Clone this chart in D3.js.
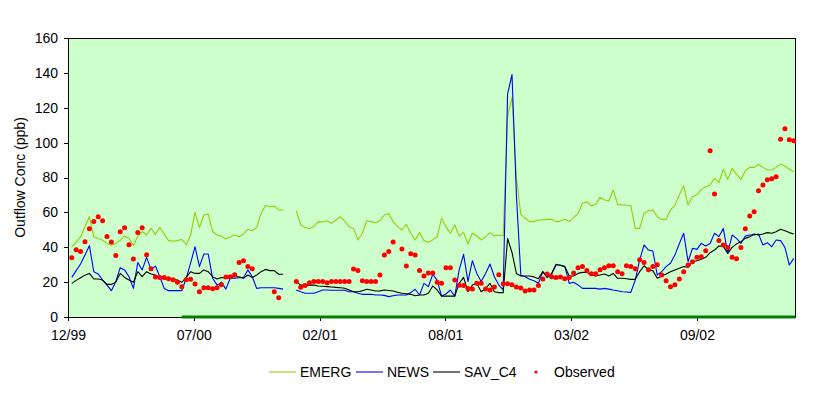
<!DOCTYPE html>
<html>
<head>
<meta charset="utf-8">
<script src="https://cdn.jsdelivr.net/npm/d3@7"></script>
<style>
  html, body { margin: 0; padding: 0; background: #fff; }
  svg { display: block; font-family: "Liberation Sans", Arial, sans-serif; }
</style>
</head>
<body>
<div id="chart"></div>
<script>
// --------------- Data (weekly samples, first week 2000-01-05) ---------------
const tickLabels = ["12/99", "07/00", "02/01", "08/01", "03/02", "09/02"];
const seriesNames = ["EMERG", "NEWS", "SAV_C4", "Observed"];

const emerg = [
  40.3, 42.8, 46.0, 51.8, 57.5, 46.0, 45.0, 44.0, 42.2, 41.1,
  42.2, 44.0, 46.4, 45.0, 41.0, 46.4, 49.0, 47.0, 50.8, 47.4,
  51.4, 47.6, 43.8, 43.4, 43.8, 44.5, 41.3, 47.0, 60.0, 51.4,
  58.5, 59.0, 49.0, 47.0, 46.4, 44.7, 46.0, 47.0, 46.0, 47.6,
  50.3, 49.5, 51.4, 59.4, 64.0, 63.2, 63.6, 61.4, 61.4, null,
  null, 60.8, 52.8, 51.4, 50.8, 51.8, 54.7, 54.5, 55.2, 53.7,
  55.6, 57.5, 55.0, 51.8, 50.8, 44.2, 48.0, 55.2, 54.7, 54.1,
  55.2, 58.5, 59.4, 54.7, 51.8, 49.9, 53.1, 48.0, 44.2, 48.4,
  43.8, 42.8, 44.2, 46.0, 56.6, 51.8, 48.0, 52.8, 46.4, 48.5,
  41.9, 48.0, 46.6, 44.2, 46.0, 48.4, 46.6, 47.0, 46.6, 115.0,
  126.0, 80.0, 59.0, 56.6, 54.7, 54.7, 55.6, 55.6, 56.0, 56.0,
  54.7, 55.0, 56.0, 54.7, 57.0, 59.4, 65.2, 66.1, 63.6, 64.6,
  68.6, 67.1, 66.7, 72.8, 64.6, 64.2, 64.2, 63.8, 50.8, 50.8,
  59.4, 61.0, 61.4, 57.5, 56.0, 56.0, 61.4, 64.0, 70.0, 75.1,
  64.2, 69.0, 70.0, 73.2, 74.7, 75.7, 79.5, 77.2, 84.7, 78.9,
  85.2, 81.8, 78.9, 83.9, 85.8, 85.8, 87.5, 85.8, 84.3, 84.3,
  85.8, 87.7, 86.6, 84.7, 83.3
];

const news = [
  22.7, 26.6, 30.4, 35.6, 40.9, 26.0, 24.7, 21.2, 18.3, 15.1,
  20.3, 28.3, 27.0, 23.1, 16.4, 31.3, 27.0, 34.2, 27.3, 29.2,
  23.1, 16.4, 15.1, 15.1, 15.1, 15.1, 22.2, 31.0, 40.3, 28.9,
  36.1, 36.1, 22.2, 18.3, 20.0, 16.0, 22.2, 22.2, 22.5, 22.5,
  27.0, 23.1, 16.4, 16.8, 16.8, 16.8, 16.8, 16.4, 16.0, null,
  null, 15.5, 14.5, 13.6, 13.6, 13.6, 14.5, 15.5, 15.5, 15.3,
  15.3, 15.3, 15.3, 14.5, 14.5, 13.6, 13.0, 13.0, 13.0, 12.6,
  12.6, 12.4, 11.7, 12.2, 12.6, 12.6, 12.6, 14.0, 15.9, 12.6,
  19.3, 17.4, 24.5, 21.0, 12.0, 13.2, 15.5, 12.0, 27.0, 35.9,
  20.3, 32.3, 25.0, 20.3, 25.0, 30.4, 23.1, 18.3, 15.5, 128.0,
  139.0, 70.0, 24.0, 23.1, 21.6, 20.8, 19.3, 26.0, 22.7, 24.7,
  29.8, 29.8, 28.9, 19.3, 19.9, 18.3, 16.4, 16.4, 16.4, 16.4,
  16.0, 16.4, 16.0, 15.5, 15.1, 14.5, 14.3, 14.1, 21.2, 32.7,
  41.3, 38.4, 37.8, 24.1, 26.0, 28.9, 30.8, 35.5, 42.0, 48.0,
  31.7, 39.4, 38.8, 42.2, 40.7, 42.2, 48.0, 46.1, 50.8, 36.5,
  47.0, 45.1, 42.2, 46.4, 47.0, 47.0, 47.6, 41.3, 42.6, 40.3,
  44.2, 43.8, 39.9, 29.8, 33.6
];

const savC4 = [
  19.3, 21.0, 22.5, 24.0, 25.0, 21.8, 21.8, 21.2, 18.7, 18.7,
  20.0, 25.0, 22.7, 21.2, 19.9, 26.0, 23.1, 26.0, 24.7, 24.0,
  22.7, 21.8, 21.8, 21.5, 21.2, 19.9, 22.7, 26.0, 25.0, 25.0,
  27.0, 26.0, 23.1, 21.8, 22.7, 22.2, 22.7, 23.1, 23.1, 22.2,
  24.1, 22.7, 24.1, 26.0, 27.3, 26.6, 26.6, 24.5, 24.5, null,
  null, 20.3, 18.3, 18.3, 18.3, 18.3, 17.8, 17.6, 17.4, 17.2,
  17.0, 16.8, 16.5, 15.5, 14.5, 14.5, 15.0, 15.9, 15.5, 14.9,
  15.0, 15.5, 15.2, 14.9, 14.2, 13.6, 13.3, 13.0, 12.2, 12.6,
  12.6, 13.6, 17.8, 15.5, 12.0, 12.0, 12.0, 12.0, 19.3, 22.7,
  14.5, 18.3, 19.3, 14.5, 16.4, 19.3, 14.5, 14.0, 14.0, 45.0,
  37.0, 25.0, 23.5, 23.5, 23.5, 23.0, 22.0, 26.0, 22.7, 25.0,
  30.2, 29.5, 28.9, 23.5, 23.5, 25.0, 25.6, 25.6, 24.1, 23.5,
  24.1, 24.7, 23.5, 25.0, 22.2, 22.2, 21.9, 21.6, 21.6, 26.0,
  29.4, 27.0, 26.6, 22.2, 23.5, 24.7, 26.0, 27.0, 27.9, 28.9,
  28.5, 31.7, 32.3, 33.1, 34.2, 36.9, 38.4, 40.7, 40.5, 36.5,
  39.9, 41.9, 43.2, 45.1, 46.0, 47.6, 47.0, 47.6, 48.4, 48.0,
  48.9, 50.3, 49.5, 48.4, 47.6
];

const observed = [
  34.0, 38.6, 37.5, 43.2, 50.6, 54.7, 57.5, 55.2, 46.1, 43.0,
  35.2, 48.9, 51.2, 41.5, 33.3, 48.4, 51.2, 35.7, 27.7, 22.9,
  22.6, 22.6, 22.0, 21.4, 19.9, 17.4, 21.4, 21.6, 18.9, 14.5,
  16.8, 16.8, 16.2, 16.8, 18.5, 22.9, 23.1, 24.3, 31.3, 32.3,
  28.9, 27.7, null, null, null, null, 14.5, 11.1, null, null,
  null, 20.3, 17.0, 18.0, 19.6, 20.3, 20.3, 20.3, 19.7, 20.3,
  20.3, 20.3, 20.3, 20.3, 27.5, 26.6, 20.8, 20.3, 20.3, 20.3,
  24.1, 35.6, 37.5, 43.0, null, 39.0, 29.2, 36.3, 35.6, 26.6,
  23.5, 25.2, 25.2, 19.9, 19.3, 28.3, 28.3, 21.2, 18.2, 18.0,
  16.4, 16.1, 19.3, 19.3, 16.1, 15.5, 17.2, 24.3, 19.1, 19.1,
  18.5, 17.2, 16.6, 14.9, 15.5, 15.5, 18.0, 21.8, 24.7, 23.1,
  22.7, 22.9, 22.0, 22.6, 25.2, 28.3, 28.9, 26.6, 24.8, 24.8,
  27.1, 28.3, 29.4, 29.4, 26.0, 24.8, 29.4, 28.9, 27.7, 32.9,
  31.2, 27.1, 28.9, 30.0, 24.1, 20.8, 17.4, 18.5, 21.8, 26.0,
  29.8, 31.7, 34.2, 34.6, 38.0, 95.4, 70.5, 43.8, 41.3, 39.8,
  34.2, 33.4, 39.8, 50.6, 57.9, 60.4, 72.4, 75.7, 78.7, 79.3,
  80.5, 102.0, 108.0, 101.7, 101.1
];

// Green baseline drawn along zero from this week onward
const baselineFromWeek = 25;

// --------------- Constants ---------------
const WIDTH = 828;
const HEIGHT = 395;
const FONT_SIZE = 14;
const margin = { left: 68, right: 33, top: 38, bottom: 78 };
const PLOT_BG = "#CCFFCC";
const COLORS = { EMERG: "#99CC00", NEWS: "#0000FF", SAV_C4: "#000000", Observed: "#FF0000" };

const axisStart = new Date(1999, 11, 30);
const axisEnd = d3.timeDay.offset(axisStart, 1156);
const firstWeek = new Date(2000, 0, 5);
const weeks = d3.range(observed.length).map((i) => d3.timeDay.offset(firstWeek, 7 * i));
const tickDates = tickLabels.map((_l, i) => d3.timeDay.offset(axisStart, 200 * i));

// --------------- Prep SVG ---------------
const svg = d3
  .select("#chart")
  .append("svg")
  .attr("width", WIDTH)
  .attr("height", HEIGHT);

const x = d3
  .scaleTime()
  .domain([axisStart, axisEnd])
  .range([margin.left, WIDTH - margin.right]);

const y = d3
  .scaleLinear()
  .domain([0, 160])
  .range([HEIGHT - margin.bottom, margin.top]);

// plot area
svg
  .append("rect")
  .attr("x", x.range()[0])
  .attr("y", y(160))
  .attr("width", x.range()[1] - x.range()[0])
  .attr("height", y(0) - y(160))
  .attr("fill", PLOT_BG)
  .attr("stroke", "#000")
  .attr("stroke-width", 1)
  .attr("shape-rendering", "crispEdges");

// y axis
const yAxis = svg
  .append("g")
  .attr("transform", `translate(${x.range()[0]},0)`)
  .call(
    d3.axisLeft(y).tickValues(d3.range(0, 161, 20)).tickSize(4).tickSizeOuter(0).tickPadding(6)
  );

// x axis
const xAxis = svg
  .append("g")
  .attr("transform", `translate(0,${y(0)})`)
  .call(
    d3
      .axisBottom(x)
      .tickValues(tickDates)
      .tickFormat((_d, i) => tickLabels[i])
      .tickSize(4)
      .tickSizeOuter(0)
      .tickPadding(9)
  );

[yAxis, xAxis].forEach((a) => {
  a.attr("font-family", null).attr("font-size", null);
  a.selectAll("text").attr("font-size", FONT_SIZE).attr("fill", "#000");
  a.selectAll("line, path").attr("stroke", "#000").attr("shape-rendering", "crispEdges");
});

// axis title
svg
  .append("text")
  .attr("transform", `translate(20,${(y(0) + y(160)) / 2}) rotate(-90)`)
  .attr("text-anchor", "middle")
  .attr("dy", "0.35em")
  .attr("font-size", FONT_SIZE)
  .text("Outflow Conc (ppb)");

// green baseline
const baseWeeks = weeks.slice(baselineFromWeek);
svg
  .append("line")
  .attr("x1", x(baseWeeks[0]))
  .attr("x2", x.range()[1])
  .attr("y1", y(0))
  .attr("y2", y(0))
  .attr("stroke", "#008000")
  .attr("stroke-width", 3);

// --------------- Lines ---------------
const line = d3
  .line()
  .defined((d) => d != null)
  .x((_d, i) => x(weeks[i]))
  .y((d) => y(d));

const lineSeries = [
  { name: "EMERG", values: emerg },
  { name: "NEWS", values: news },
  { name: "SAV_C4", values: savC4 },
];

svg
  .append("g")
  .selectAll("path")
  .data(lineSeries)
  .enter()
  .append("path")
  .attr("d", (s) => line(s.values))
  .attr("fill", "none")
  .attr("stroke", (s) => COLORS[s.name])
  .attr("stroke-width", 1.1)
  .attr("stroke-linejoin", "round");

// observed markers
svg
  .append("g")
  .selectAll("circle")
  .data(observed.map((v, i) => ({ v, date: weeks[i] })).filter((d) => d.v != null))
  .enter()
  .append("circle")
  .attr("cx", (d) => x(d.date))
  .attr("cy", (d) => y(d.v))
  .attr("r", 2.5)
  .attr("fill", COLORS.Observed);

// --------------- Legend ---------------
const legendY = 372;
const legendItems = [
  { name: "EMERG", x: 269 },
  { name: "NEWS", x: 356 },
  { name: "SAV_C4", x: 433 },
];
const legend = svg.append("g");
legendItems.forEach((it) => {
  legend
    .append("line")
    .attr("x1", it.x)
    .attr("x2", it.x + 27)
    .attr("y1", legendY)
    .attr("y2", legendY)
    .attr("stroke", COLORS[it.name])
    .attr("stroke-width", 1.1);
  legend
    .append("text")
    .attr("x", it.x + 31)
    .attr("y", legendY)
    .attr("dy", "0.35em")
    .attr("font-size", FONT_SIZE)
    .text(it.name);
});
legend
  .append("circle")
  .attr("cx", 536)
  .attr("cy", legendY)
  .attr("r", 1.6)
  .attr("fill", COLORS.Observed);
legend
  .append("text")
  .attr("x", 554)
  .attr("y", legendY)
  .attr("dy", "0.35em")
  .attr("font-size", FONT_SIZE)
  .text(seriesNames[3]);
</script>
</body>
</html>
